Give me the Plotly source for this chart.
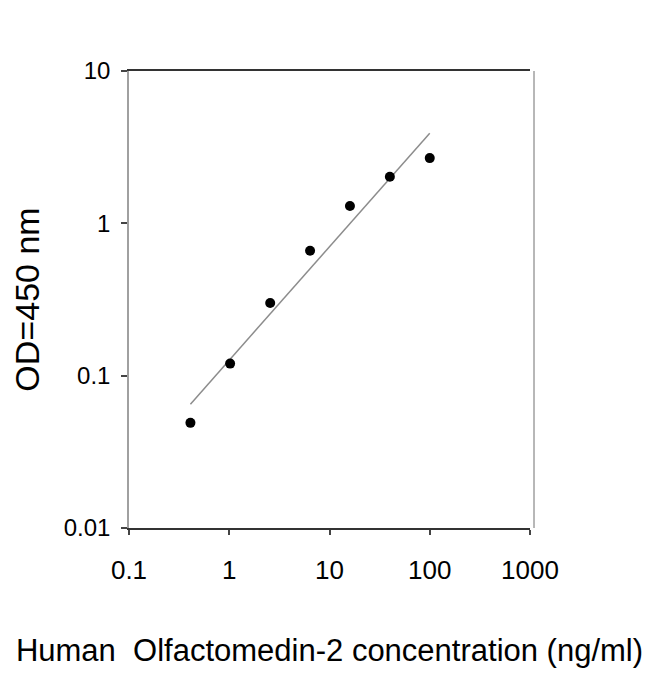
import numpy as np
import plotly.graph_objects as go

# standard curve readings
conc = [0.41, 1.02, 2.56, 6.4, 16, 40, 100]
od = [0.049, 0.12, 0.30, 0.66, 1.30, 2.02, 2.68]

x_ticks = [0.1, 1, 10, 100, 1000]
x_ticktext = ["0.1", "1", "10", "100", "1000"]
y_ticks = [0.01, 0.1, 1, 10]
y_ticktext = ["0.01", "0.1", "1", "10"]

# log-log linear fit for trend line
slope, icpt = np.polyfit(np.log10(conc), np.log10(od), 1)
fit_x = [min(conc), max(conc)]
fit_y = [10 ** (icpt + slope * np.log10(v)) for v in fit_x]

FONT = "Liberation Sans, Arial, sans-serif"

fig = go.Figure()

fig.add_trace(go.Scatter(
    x=fit_x, y=fit_y, mode="lines",
    line=dict(color="#8c8c8c", width=1.5),
    showlegend=False
))

fig.add_trace(go.Scatter(
    x=conc, y=od, mode="markers",
    marker=dict(color="black", size=10),
    showlegend=False
))

# right border line (light gray, sits a little right of the plot)
fig.add_shape(type="line", xref="paper", yref="paper",
              x0=1.01, x1=1.01, y0=0, y1=1,
              line=dict(color="#a0a0a0", width=1.5))

# page body has an 8px margin, so figure is a bit smaller than the window
fig.update_layout(
    width=642, height=666,
    margin=dict(l=120, r=120, t=63, b=140),
    plot_bgcolor="white", paper_bgcolor="white",
    font=dict(family=FONT, color="black"),
    xaxis=dict(
        type="log", range=[-1, 3],
        tickvals=x_ticks, ticktext=x_ticktext,
        tickfont=dict(size=26), ticklabelstandoff=13,
        ticks="outside", ticklen=5, tickcolor="#444", tickwidth=1.5,
        showline=True, linecolor="#333", linewidth=2, mirror=True,
        showgrid=False, zeroline=False,
        title=dict(text="Human  Olfactomedin-2 concentration (ng/ml)",
                   font=dict(size=31), standoff=55),
    ),
    yaxis=dict(
        type="log", range=[-2, 1],
        tickvals=y_ticks, ticktext=y_ticktext,
        tickfont=dict(size=24), ticklabelstandoff=6,
        ticks="outside", ticklen=6, tickcolor="#444", tickwidth=1.5,
        showline=True, linecolor="#a0a0a0", linewidth=1.5,
        showgrid=False, zeroline=False,
        title=dict(text="OD=450 nm", font=dict(size=34), standoff=20),
    ),
)

fig.write_html("out.html")
